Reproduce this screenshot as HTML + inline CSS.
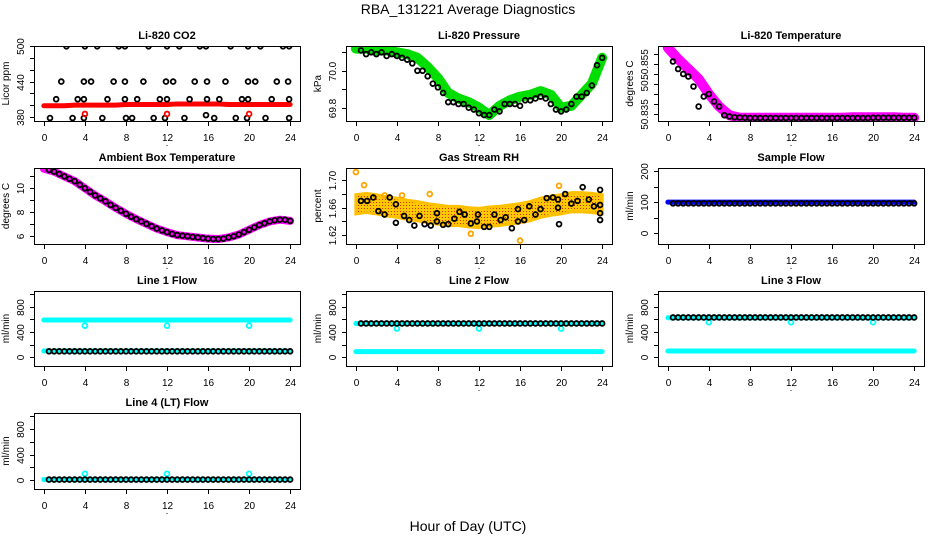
<!DOCTYPE html>
<html><head><meta charset="utf-8">
<style>
html,body{margin:0;padding:0;background:#fff;}
svg{display:block;font-family:"Liberation Sans",sans-serif;}
.tl{font-size:10px;fill:#000;}
.tt{font-size:11px;font-weight:bold;fill:#000;}
</style></head>
<body>
<svg id="chart" width="936" height="540" viewBox="0 0 936 540">
<text x="468" y="14" text-anchor="middle" font-size="14">RBA_131221  Average Diagnostics</text>
<text x="468" y="531" text-anchor="middle" font-size="14">Hour of Day (UTC)</text>
</svg>
<script>
const T48=[0.5,1,1.5,2,2.5,3,3.5,4,4.5,5,5.5,6,6.5,7,7.5,8,8.5,9,9.5,10,10.5,11,11.5,12,12.5,13,13.5,14,14.5,15,15.5,16,16.5,17,17.5,18,18.5,19,19.5,20,20.5,21,21.5,22,22.5,23,23.5,24];
const H25=[0,1,2,3,4,5,6,7,8,9,10,11,12,13,14,15,16,17,18,19,20,21,22,23,24];
const xTicks=[0,4,8,12,16,20,24];

// CO2
const co2RedBand=[399,399,399,400,400,400,400,400,401,401,401,401,401,402,402,402,402,402,401,401,401,401,401,401,401];
const co2BlackT=[2.2,4.0,5.2,7.3,7.9,10.2,12.0,13.2,15.2,15.8,18.2,19.9,21.1,23.3,23.9,1.7,3.9,4.6,6.8,7.9,9.7,11.9,12.6,14.7,15.9,17.7,19.9,20.6,22.7,23.8,1.2,3.3,3.9,6.2,7.9,9.1,11.3,12.0,14.2,15.9,17.1,19.3,19.9,22.2,23.9,0.6,2.8,3.9,5.7,8.0,8.6,10.7,11.8,13.7,16.6,18.7,19.8,21.6,23.9,15.8];
const co2BlackV=[500,500,500,500,500,500,500,500,500,500,500,500,500,500,500,440,440,440,440,440,440,440,440,440,440,440,440,440,440,440,410,410,410,410,410,410,410,410,410,410,410,410,410,410,410,378,378,378,378,378,378,378,378,378,378,378,378,378,378,383];
const co2RedT=[4,12,20];
const co2RedV=[385,385,385];
// Pressure
const presBand=[70.12,70.12,70.11,70.11,70.10,70.09,70.07,70.02,69.96,69.88,69.85,69.83,69.80,69.76,69.81,69.84,69.86,69.87,69.89,69.87,69.80,69.81,69.87,69.93,70.07];
const presBlack=[70.11,70.09,70.10,70.09,70.10,70.08,70.09,70.08,70.07,70.06,70.04,70.00,70.00,69.97,69.93,69.91,69.88,69.83,69.83,69.82,69.82,69.80,69.79,69.77,69.76,69.76,69.79,69.78,69.82,69.82,69.82,69.81,69.84,69.84,69.85,69.86,69.85,69.82,69.79,69.78,69.79,69.82,69.86,69.86,69.88,69.92,70.03,70.07];
// Li-820 temperature
const tempBand=[50.8615,50.857,50.853,50.849,50.843,50.838,50.8345,50.8335,50.8335,50.8335,50.8335,50.8335,50.8335,50.8335,50.8335,50.8335,50.8335,50.8335,50.8337,50.8337,50.8337,50.8337,50.8337,50.8335,50.8335];
const tempBlack=[50.856,50.853,50.851,50.850,50.846,50.838,50.842,50.843,50.840,50.838,50.8345,50.834,50.8337,50.8336,50.8335,50.8334,50.8334,50.8334,50.8334,50.8334,50.8334,50.8334,50.8334,50.8334,50.8334,50.8334,50.8334,50.8334,50.8334,50.8334,50.8334,50.8334,50.8334,50.8334,50.8334,50.8334,50.8334,50.8334,50.8334,50.8335,50.8335,50.8335,50.8335,50.8335,50.8335,50.8335,50.8335,50.8335];
// Ambient box temperature
const ambBand=[11.65,11.4,11.0,10.6,10.0,9.4,8.9,8.35,7.85,7.4,7.0,6.6,6.3,6.05,5.95,5.85,5.75,5.72,5.85,6.1,6.5,6.9,7.2,7.35,7.25];
const ambBlack=[11.55,11.4,11.2,11.0,10.8,10.6,10.3,10.0,9.7,9.4,9.15,8.9,8.6,8.35,8.1,7.85,7.6,7.4,7.2,7.0,6.8,6.6,6.45,6.3,6.15,6.05,6.0,5.95,5.9,5.85,5.8,5.75,5.72,5.72,5.75,5.85,5.95,6.1,6.3,6.5,6.7,6.9,7.05,7.2,7.3,7.35,7.35,7.25];
// RH
const rhCenter=[1.665,1.667,1.665,1.662,1.660,1.657,1.655,1.652,1.650,1.648,1.648,1.646,1.645,1.647,1.648,1.650,1.652,1.655,1.660,1.663,1.665,1.668,1.668,1.667,1.665];
const rhSpread=0.014;
const rhOutT=[0,0.8,2.8,11.2,16,19.8,4.5,7.2];
const rhOutV=[1.712,1.693,1.678,1.622,1.612,1.692,1.678,1.680];
const rhBlackT=[0.5,1.1,1.7,2.2,2.8,3.3,3.9,3.9,4.7,5.2,5.7,6.2,6.7,7.3,7.9,7.9,8.5,9.0,9.6,10.1,10.6,11.2,11.8,11.9,12.5,13,13.5,14.1,14.6,15.2,15.8,15.8,16.4,16.9,17.5,18,18.6,19.2,19.7,19.7,19.8,20.4,21,21.6,22.1,22.7,23.2,23.8,23.8,23.8,23.8];
const rhBlackV=[1.67,1.67,1.675,1.655,1.65,1.675,1.665,1.638,1.648,1.642,1.634,1.648,1.636,1.634,1.652,1.64,1.635,1.636,1.644,1.654,1.65,1.637,1.64,1.65,1.632,1.632,1.65,1.642,1.646,1.63,1.658,1.64,1.642,1.662,1.65,1.658,1.674,1.675,1.672,1.66,1.636,1.68,1.666,1.67,1.69,1.672,1.662,1.686,1.664,1.652,1.642];
// Flows
const sampleBand=100, sampleBlack=96;
const line1Upper=590, line1Lower=100, line1Black=95, line1Dip=500;
const line2Upper=535, line2Lower=90, line2Black=535, line2Dip=455;
const line3Upper=625, line3Lower=100, line3Black=630, line3Dip=555;
const line4Cyan=10, line4Black=10, line4Spike=100;
const dipT=[4,12,20];

const NS="http://www.w3.org/2000/svg";
const svg=document.getElementById('chart');
function mk(tag,attrs,parent){const e=document.createElementNS(NS,tag);for(const k in attrs)e.setAttribute(k,attrs[k]);(parent||svg).appendChild(e);return e;}

const cols=[[34,300],[346,612],[658,924]];
const rows=[[46,121],[168,244],[291,366],[413,489]];

function panel(name,c,r,title,ylab,ylim,yticks,ylabels){
  const [x0,x1]=cols[c],[y0,y1]=rows[r];
  const g=mk('g',{});
  
  
  const X=t=>x0+(x1-x0)*(t+0.96)/25.92;
  const Y=v=>y1-(y1-y0)*(v-ylim[0])/(ylim[1]-ylim[0]);
  const clip='clip-'+name;
  const cp=mk('clipPath',{id:clip},g);mk('rect',{x:x0,y:y0,width:x1-x0,height:y1-y0},cp);
  const plot=mk('g',{'clip-path':'url(#'+clip+')'},g);
  
  
  const box=mk('rect',{x:x0+0.5,y:y0+0.5,width:x1-x0,height:y1-y0,fill:'none',stroke:'#000','stroke-width':1},g);
  
  
  const t=mk('text',{x:(x0+x1)/2,y:y0-7,'text-anchor':'middle',class:'tt'},g);t.textContent=title;
  
  
  xTicks.forEach(v=>{const px=Math.round(X(v))+0.5;
    mk('line',{x1:px,x2:px,y1:y1+1,y2:y1+5,stroke:'#000'},g);
    const l=mk('text',{x:px,y:y1+20,'text-anchor':'middle',class:'tl'},g);l.textContent=v;
    
    });
  const dot=mk('text',{x:(x0+x1)/2,y:y1+25,'text-anchor':'middle','font-size':'9'},g);dot.textContent='.';
  yticks.forEach((v,i)=>{const py=Math.round(Y(v))+0.5;
    mk('line',{x1:x0-4,x2:x0,y1:py,y2:py,stroke:'#000'},g);
    if(ylabels[i]){const l=mk('text',{x:0,y:0,'text-anchor':'middle',class:'tl',transform:`translate(${x0-10},${py}) rotate(-90)`},g);l.textContent=ylabels[i];
      
      }});
  const yl=mk('text',{x:0,y:0,'text-anchor':'middle',class:'tl',transform:`translate(${x0-25},${(y0+y1)/2}) rotate(-90)`},g);yl.textContent=ylab;
  
  
  return {X,Y,plot};
}
function band(p,ts,vs,color,w,name){
  const pl=mk('polyline',{points:ts.map((t,i)=>p.X(t)+','+p.Y(vs[i])).join(' '),fill:'none',stroke:color,'stroke-width':w,'stroke-linejoin':'round','stroke-linecap':'round'},p.plot);
  
  
}
function circles(p,ts,vs,color,name,r){
  ts.forEach((t,i)=>{const c=mk('circle',{cx:p.X(t),cy:p.Y(vs[i]),r:r||2.4,fill:'none',stroke:color,'stroke-width':1.8},p.plot);
    
    });
}
const fill=(n,v)=>Array(n).fill(v);

let p=panel('co2',0,0,'Li-820 CO2','Licor ppm',[373,500.5],[380,400,420,440,460,480,500],['380','','','440','','','500']);
band(p,H25,co2RedBand,'#ff0000',5,'co2-band');
circles(p,co2BlackT,co2BlackV,'#000','co2-point');
circles(p,co2RedT,co2RedV,'#ff0000','co2-red-point');

p=panel('pressure',1,0,'Li-820 Pressure','kPa',[69.728,70.134],[69.8,69.9,70.0,70.1],['69.8','','70.0','']);
band(p,H25,presBand,'#00dd00',10,'pressure-band');
circles(p,T48,presBlack,'#000','pressure-point');

p=panel('licor-temp',2,0,'Li-820 Temperature','degrees C',[50.8322,50.8622],[50.835,50.839,50.843,50.847,50.851,50.855,50.859],['50.835','','','50.','','50.855','']);
band(p,H25,tempBand,'#ff00ff',10,'licor-temp-band');
circles(p,T48,tempBlack,'#000','licor-temp-point');

p=panel('ambient-temp',0,1,'Ambient Box Temperature','degrees C',[5.3,11.71],[6,7,8,9,10,11],['6','','8','','10','']);
band(p,H25,ambBand,'#ff00ff',8,'ambient-band');
circles(p,T48,ambBlack,'#000','ambient-point');

p=panel('rh',1,1,'Gas Stream RH','percent',[1.607,1.718],[1.62,1.64,1.66,1.68,1.70],['1.62','','1.66','','1.70']);
{const pts=H25.map((t,i)=>p.X(t)+','+p.Y(rhCenter[i]+rhSpread)).concat(H25.slice().reverse().map((t,j)=>{const i=H25.length-1-j;return p.X(t)+','+p.Y(rhCenter[i]-rhSpread);}));
 const pat=mk('pattern',{id:'rhpat',width:3,height:3,patternUnits:'userSpaceOnUse'},svg);
 mk('rect',{x:0,y:0,width:3,height:3,fill:'#ffc800'},pat);mk('rect',{x:1,y:1,width:1,height:1,fill:'#e03000'},pat);
 const pg=mk('polygon',{points:pts.join(' '),fill:'url(#rhpat)',stroke:'#ffc000','stroke-width':3},p.plot);
 
 }
circles(p,rhOutT,rhOutV,'#ffa500','rh-outlier',2.4);
circles(p,rhBlackT,rhBlackV,'#000','rh-point');

p=panel('sample-flow',2,1,'Sample Flow','ml/min',[-34.5,209.7],[0,50,100,150,200],['0','','100','','200']);
band(p,[0,24],fill(2,sampleBand),'#0000ff',5,'sample-band');
circles(p,T48,fill(48,sampleBlack),'#000','sample-point');

const flowLim=[-137,1048],flowT=[0,200,400,600,800,1000],flowL=['0','','400','','800',''];
function flowPanel(name,c,r,title,up,lo,bl,dip){
  const q=panel(name,c,r,title,'ml/min',flowLim,flowT,flowL);
  band(q,[0,24],fill(2,up),'#00ffff',5,name+'-upper-band');
  band(q,[0,24],fill(2,lo),'#00ffff',5,name+'-lower-band');
  circles(q,dipT,fill(3,dip),'#00ffff',name+'-dip');
  circles(q,T48,fill(48,bl),'#000',name+'-point');
}
flowPanel('line1-flow',0,2,'Line 1 Flow',line1Upper,line1Lower,line1Black,line1Dip);
flowPanel('line2-flow',1,2,'Line 2 Flow',line2Upper,line2Lower,line2Black,line2Dip);
flowPanel('line3-flow',2,2,'Line 3 Flow',line3Upper,line3Lower,line3Black,line3Dip);
p=panel('line4-flow',0,3,'Line 4 (LT) Flow','ml/min',flowLim,flowT,flowL);
band(p,[0,24],fill(2,line4Cyan),'#00ffff',5,'line4-band');
circles(p,dipT,fill(3,line4Spike),'#00ffff','line4-spike');
circles(p,T48,fill(48,line4Black),'#000','line4-point');
</script>
</body></html>
